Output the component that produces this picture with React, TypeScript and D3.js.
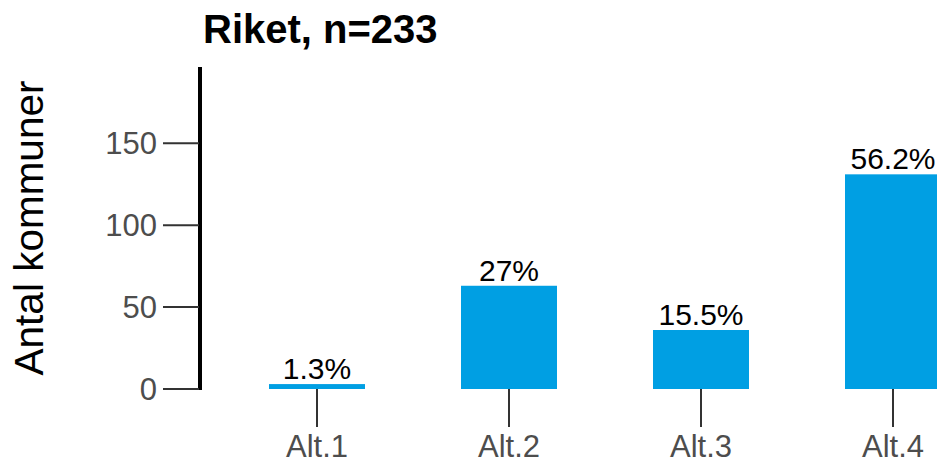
import React, { useEffect, useRef } from "react";
import * as d3 from "d3";

// Chart data
const categories = ["Alt.1", "Alt.2", "Alt.3", "Alt.4"];
const counts = [3, 63, 36, 131];
const percentLabels = ["1.3%", "27%", "15.5%", "56.2%"];
const yTicks = [0, 50, 100, 150];
const total = 233;

const App = () => {
  const svgRef = useRef<SVGSVGElement | null>(null);

  useEffect(() => {
    const width = 937;
    const height = 459;
    const font = "'Liberation Sans', Arial, sans-serif";

    const svg = d3.select(svgRef.current).attr("width", width).attr("height", height);
    svg.selectAll("*").remove();

    // scales
    const x = d3.scaleBand<string>()
      .domain(categories)
      .range([221, 989])
      .paddingInner(0.5)
      .paddingOuter(0.25);

    const y = d3.scaleLinear()
      .domain([0, 196.5])
      .range([389, 67]);

    // title
    svg.append("text")
      .attr("x", 203)
      .attr("y", 43)
      .attr("font-family", font)
      .attr("font-weight", "bold")
      .attr("font-size", 40)
      .attr("fill", "#000")
      .text(`Riket, n=${total}`);

    // y axis title
    svg.append("text")
      .attr("transform", `translate(43,228) rotate(-90)`)
      .attr("text-anchor", "middle")
      .attr("font-family", font)
      .attr("font-size", 40.5)
      .attr("fill", "#000")
      .text("Antal kommuner");

    // bars
    svg.append("g")
      .selectAll("rect")
      .data(counts)
      .enter()
      .append("rect")
      .attr("x", (d, i) => x(categories[i])!)
      .attr("width", x.bandwidth())
      .attr("y", d => y(d))
      .attr("height", d => y(0) - y(d))
      .attr("fill", "#009fe3");

    // percentage labels above bars
    svg.append("g")
      .selectAll("text")
      .data(counts)
      .enter()
      .append("text")
      .attr("x", (d, i) => x(categories[i])! + x.bandwidth() / 2)
      .attr("y", d => y(d) - 5)
      .attr("text-anchor", "middle")
      .attr("font-family", font)
      .attr("font-size", 30)
      .attr("fill", "#000")
      .text((d, i) => percentLabels[i]);

    // y axis: line, ticks, labels
    const yAxis = svg.append("g");
    yAxis.append("line")
      .attr("x1", 200).attr("x2", 200)
      .attr("y1", y.range()[1]).attr("y2", y(0) + 1)
      .attr("stroke", "#000")
      .attr("stroke-width", 4);
    yAxis.selectAll("line.tick")
      .data(yTicks)
      .enter()
      .append("line")
      .attr("class", "tick")
      .attr("x1", 163).attr("x2", 199)
      .attr("y1", d => y(d)).attr("y2", d => y(d))
      .attr("stroke", "#333")
      .attr("stroke-width", 2);
    yAxis.selectAll("text")
      .data(yTicks)
      .enter()
      .append("text")
      .attr("x", 157)
      .attr("y", d => y(d))
      .attr("dy", "0.36em")
      .attr("text-anchor", "end")
      .attr("font-family", font)
      .attr("font-size", 31)
      .attr("fill", "#4d4d4d")
      .text(d => d);

    // x axis: ticks + labels (no line)
    const xAxis = svg.append("g");
    xAxis.selectAll("line")
      .data(categories)
      .enter()
      .append("line")
      .attr("x1", d => x(d)! + x.bandwidth() / 2)
      .attr("x2", d => x(d)! + x.bandwidth() / 2)
      .attr("y1", y(0))
      .attr("y2", 427)
      .attr("stroke", "#333")
      .attr("stroke-width", 2);
    xAxis.selectAll("text")
      .data(categories)
      .enter()
      .append("text")
      .attr("x", d => x(d)! + x.bandwidth() / 2)
      .attr("y", 457)
      .attr("text-anchor", "middle")
      .attr("font-family", font)
      .attr("font-size", 31)
      .attr("fill", "#4d4d4d")
      .text(d => d);
  }, []);

  return (
    <div style={{ position: "absolute", left: 0, top: 0, width: 937, height: 459, overflow: "hidden", background: "#fff" }}>
      <svg ref={svgRef} style={{ display: "block" }}></svg>
    </div>
  );
};

export default App;
